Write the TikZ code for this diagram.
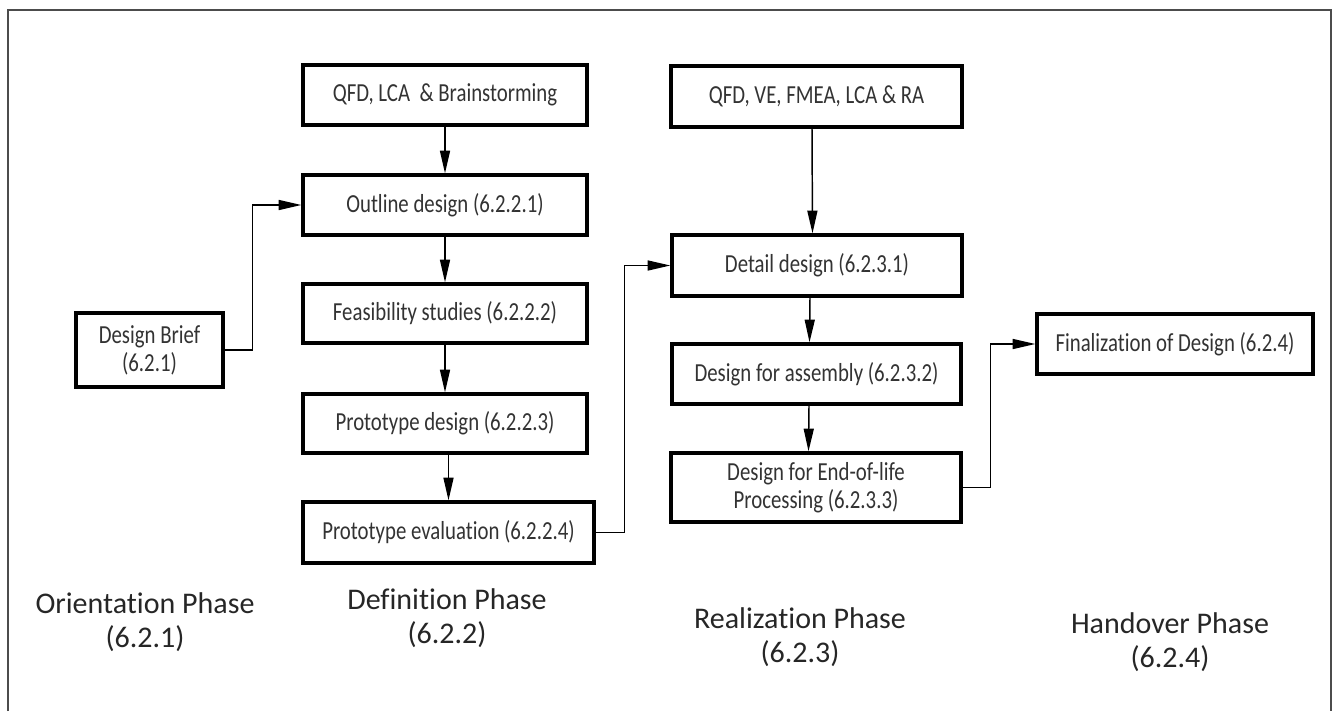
\documentclass[tikz,border=0pt]{standalone}
\usepackage{fontspec}
\setmainfont[Ligatures={NoCommon,NoContextual}]{Carlito}
\newfontfamily\boxfont[FakeStretch=0.8,Ligatures={NoCommon,NoContextual}]{Carlito}
\usetikzlibrary{arrows.meta,calc}
\begin{document}
\begin{tikzpicture}[x=0.75pt,y=-0.75pt,
  box/.style={draw=black,line width=2.5pt,fill=white,inner sep=0pt,align=center,
    font=\boxfont\fontsize{19.5}{21}\selectfont,text=black!80},
  conn/.style={line width=1.1pt,-{Triangle[length=17pt,width=7.5pt]}},
  phase/.style={align=center,font=\fontsize{22.5}{25}\selectfont,text=black!85}]
\useasboundingbox (0,0) rectangle (1334,711);
\draw[line width=1.4pt,black!70] (8,711) -- (8,10) -- (1331,10) -- (1331,711);

% Definition column
\node[box,minimum width=213pt,minimum height=45pt] (qfdA) at (445,95) {QFD, LCA\ \ \& Brainstorming};
\node[box,minimum width=213pt,minimum height=45pt] (outline) at (445,205) {Outline design (6.2.2.1)};
\node[box,minimum width=213pt,minimum height=44.25pt] (feas) at (445,313.5) {Feasibility studies (6.2.2.2)};
\node[box,minimum width=213pt,minimum height=44.25pt] (proto) at (445,423.5) {Prototype design (6.2.2.3)};
\node[box,minimum width=218.25pt,minimum height=45.75pt] (eval) at (448.5,532.5) {Prototype evaluation (6.2.2.4)};

% Orientation
\node[box,minimum width=110.25pt,minimum height=55.5pt] (brief) at (149.5,350) {Design Brief\\(6.2.1)};

% Realization column
\node[box,minimum width=218.25pt,minimum height=45.75pt] (qfdB) at (816.5,96.5) {QFD, VE, FMEA, LCA \& RA};
\node[box,minimum width=217.5pt,minimum height=45.75pt] (detail) at (817,265.5) {Detail design (6.2.3.1)};
\node[box,minimum width=216.75pt,minimum height=45pt] (assembly) at (816.5,374) {Design for assembly (6.2.3.2)};
\node[box,minimum width=217.5pt,minimum height=51.75pt] (eol) at (816,487.5) {Design for End-of-life\\Processing (6.2.3.3)};

% Handover
\node[box,minimum width=207pt,minimum height=45pt] (final) at (1175,344) {Finalization of Design (6.2.4)};

% connectors
\draw[conn] (qfdA) -- (outline);
\draw[conn] (outline) -- (feas);
\draw[conn] (feas) -- (proto);
\draw[conn] (eval.north |- proto.south) -- (eval.north);
\draw[conn] (brief.east) -- ++(28,0) |- (outline.west);
\draw[conn] (eval.east) -- ++(29,0) |- (detail.west);
\draw[conn] ($(qfdB.south)+(-4.5,0)$) -- ($(detail.north)+(-4.5,0)$);
\draw[conn] ($(detail.south)+(-7,0)$) -- ($(assembly.north)+(-7,0)$);
\draw[conn] ($(assembly.south)+(-7.5,0)$) -- ($(eol.north)+(-7.5,0)$);
\draw[conn] (eol.east) -- ++(28,0) |- (final.west);

% phase labels
\node[phase] (pO) at (145,622) {Orientation Phase\\(6.2.1)};
\node[phase] (pD) at (447,618) {Definition Phase\\(6.2.2)};
\node[phase] (pR) at (800,637) {Realization Phase\\(6.2.3)};
\node[phase] (pH) at (1170,642) {Handover Phase\\(6.2.4)};
\end{tikzpicture}
\end{document}
